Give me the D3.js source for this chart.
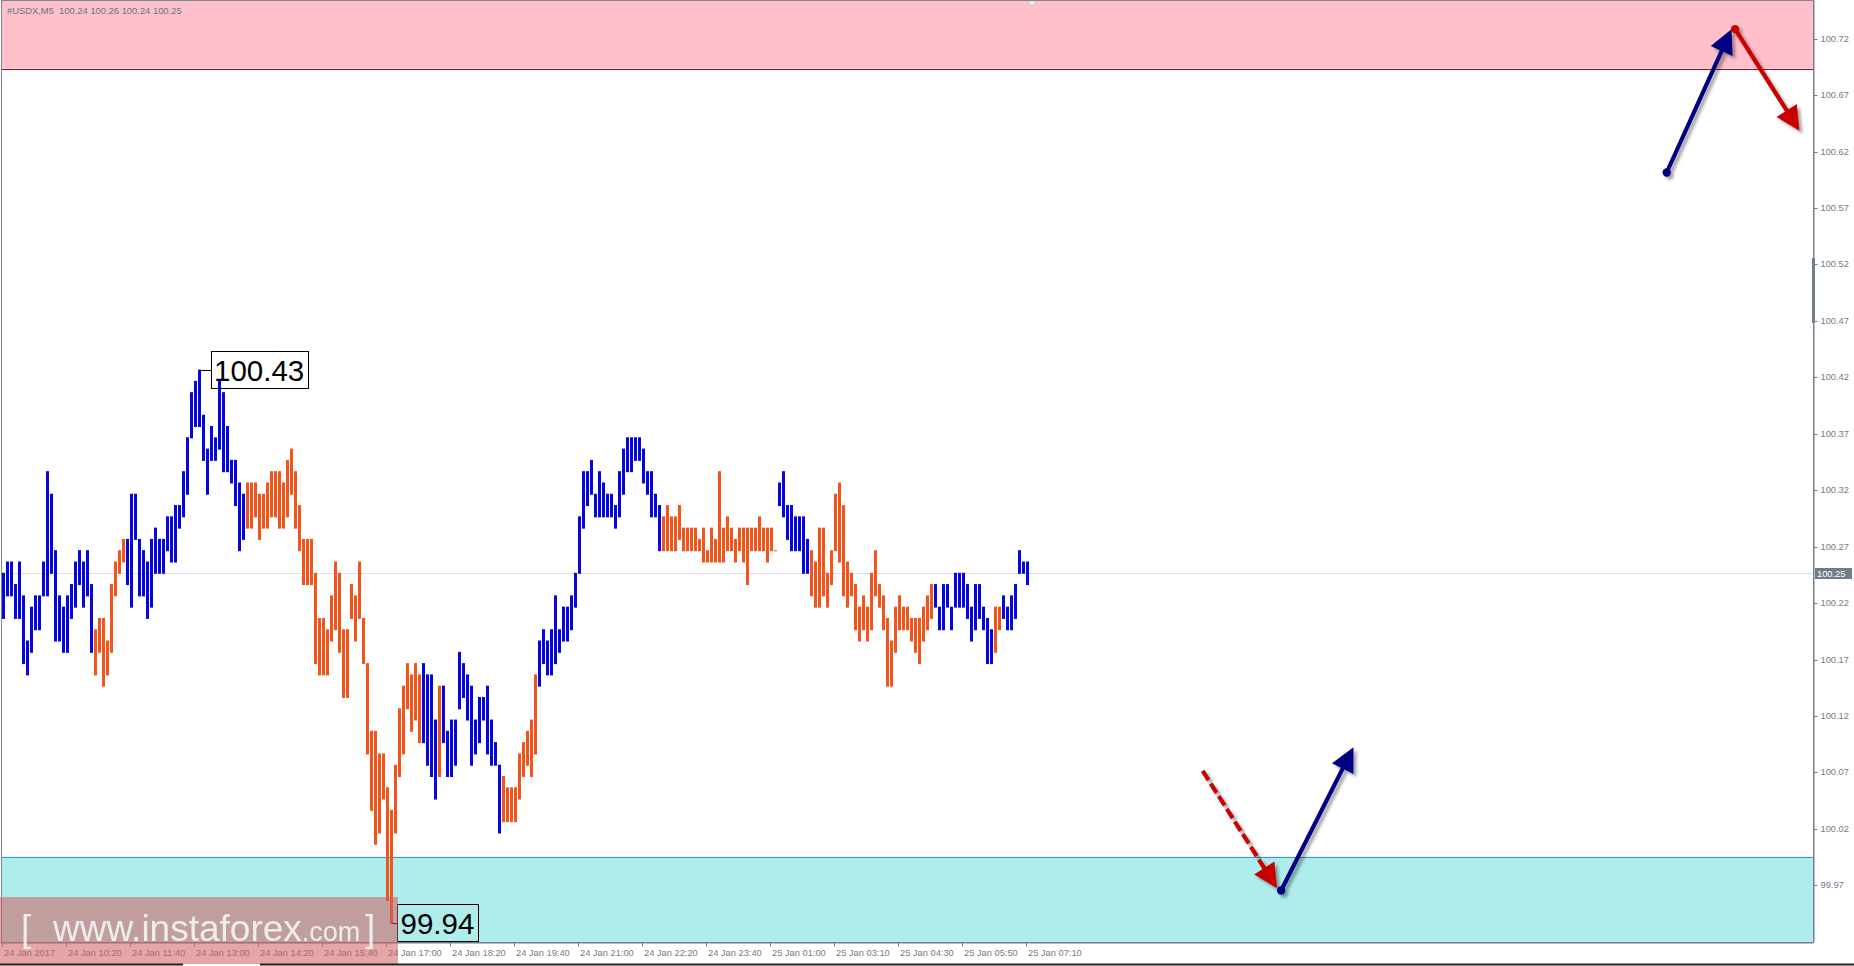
<!DOCTYPE html>
<html><head><meta charset="utf-8">
<script src="https://cdn.jsdelivr.net/npm/d3@7"></script>
<style>
html,body{margin:0;padding:0;background:#fff;overflow:hidden}
svg{display:block}
text{font-family:"Liberation Sans",Arial,sans-serif}
</style></head><body>
<svg id="c" width="1854" height="966"></svg>
<script>
const symbol = "#USDX,M5";
const lastOHLC = ["100.24", "100.26", "100.24", "100.25"];
const highs = [
100.25,100.26,100.26,100.24,100.26,100.23,100.19,100.22,100.23,100.23,
100.26,100.34,100.32,100.27,100.23,100.22,100.23,100.24,100.26,100.27,
100.26,100.27,100.24,100.20,100.21,100.21,100.19,100.24,100.26,100.27,
100.28,100.28,100.32,100.32,100.28,100.27,100.26,100.28,100.29,100.28,
100.28,100.30,100.30,100.31,100.31,100.34,100.37,100.41,100.42,100.43,
100.39,100.36,100.38,100.37,100.42,100.41,100.38,100.35,100.35,100.33,
100.32,100.33,100.33,100.33,100.32,100.32,100.33,100.34,100.34,100.34,
100.33,100.35,100.36,100.34,100.31,100.28,100.28,100.28,100.25,100.21,
100.21,100.20,100.23,100.26,100.25,100.20,100.20,100.24,100.23,100.26,
100.21,100.17,100.11,100.11,100.09,100.09,100.06,100.04,100.08,100.13,
100.15,100.17,100.16,100.17,100.16,100.17,100.16,100.16,100.12,100.15,
100.15,100.11,100.12,100.12,100.18,100.17,100.16,100.15,100.12,100.14,
100.14,100.15,100.12,100.10,100.08,100.07,100.06,100.06,100.06,100.09,
100.10,100.11,100.12,100.16,100.19,100.20,100.19,100.20,100.23,100.20,
100.22,100.22,100.23,100.25,100.30,100.34,100.34,100.35,100.32,100.34,
100.33,100.32,100.32,100.31,100.34,100.36,100.37,100.37,100.37,100.37,
100.36,100.34,100.34,100.32,100.31,100.30,100.31,100.30,100.30,100.31,
100.29,100.29,100.29,100.29,100.28,100.29,100.27,100.29,100.28,100.34,
100.29,100.30,100.29,100.28,100.29,100.29,100.29,100.29,100.29,100.30,
100.29,100.29,100.29,100.27,100.33,100.34,100.31,100.31,100.30,100.30,
100.30,100.28,100.27,100.26,100.29,100.29,100.25,100.27,100.32,100.33,
100.31,100.26,100.25,100.24,100.22,100.23,100.22,100.25,100.27,100.24,
100.23,100.21,100.19,100.22,100.23,100.22,100.22,100.21,100.21,100.21,
100.22,100.23,100.24,100.24,100.22,100.24,100.24,100.22,100.25,100.25,
100.25,100.24,100.22,100.24,100.24,100.22,100.21,100.20,100.22,100.22,
100.23,100.22,100.23,100.24,100.27,100.26,100.26];
const lows = [
100.21,100.23,100.23,100.21,100.21,100.17,100.16,100.18,100.20,100.20,
100.23,100.23,100.25,100.19,100.19,100.18,100.18,100.21,100.22,100.24,
100.22,100.23,100.18,100.16,100.18,100.15,100.16,100.18,100.23,100.25,
100.26,100.24,100.22,100.28,100.23,100.23,100.21,100.22,100.25,100.25,
100.25,100.27,100.26,100.26,100.29,100.30,100.32,100.37,100.38,100.38,
100.35,100.32,100.35,100.35,100.36,100.34,100.34,100.33,100.31,100.27,
100.28,100.29,100.29,100.30,100.28,100.29,100.29,100.30,100.30,100.29,
100.29,100.30,100.32,100.29,100.27,100.24,100.24,100.24,100.17,100.16,
100.16,100.16,100.19,100.20,100.18,100.14,100.14,100.21,100.19,100.21,
100.17,100.09,100.04,100.01,100.02,100.05,99.96,99.94,100.02,100.07,
100.09,100.13,100.11,100.12,100.10,100.10,100.08,100.07,100.05,100.07,
100.10,100.07,100.07,100.08,100.13,100.14,100.12,100.08,100.09,100.10,
100.12,100.09,100.08,100.08,100.02,100.03,100.03,100.03,100.03,100.05,
100.07,100.08,100.07,100.09,100.15,100.17,100.16,100.16,100.17,100.18,
100.19,100.19,100.20,100.22,100.25,100.29,100.31,100.32,100.30,100.30,
100.30,100.30,100.30,100.29,100.30,100.32,100.34,100.34,100.35,100.35,
100.33,100.32,100.30,100.30,100.27,100.27,100.27,100.27,100.27,100.28,
100.27,100.27,100.27,100.27,100.27,100.26,100.26,100.26,100.26,100.26,
100.26,100.27,100.27,100.26,100.27,100.26,100.24,100.27,100.27,100.27,
100.27,100.26,100.27,100.27,100.31,100.30,100.28,100.27,100.27,100.27,
100.25,100.25,100.23,100.22,100.22,100.23,100.22,100.24,100.27,100.26,
100.23,100.22,100.23,100.20,100.19,100.20,100.19,100.20,100.23,100.22,
100.20,100.15,100.15,100.18,100.20,100.20,100.20,100.19,100.18,100.17,
100.19,100.20,100.21,100.22,100.20,100.20,100.22,100.20,100.22,100.22,
100.22,100.21,100.19,100.20,100.21,100.20,100.17,100.17,100.18,100.20,
100.21,100.20,100.20,100.21,100.25,100.25,100.24];
// wave colouring of the bars, run-length: [colour, number of bars]
const trendRuns = [["B",23],["O",8],["B",30],["O",44],["B",4],["O",1],["B",15],["O",9],
  ["B",31],["O",29],["B",8],["O",31],["B",15],["O",2],["B",7]];
const timeLabels = ["24 Jan 2017","24 Jan 10:20","24 Jan 11:40","24 Jan 13:00","24 Jan 14:20",
  "24 Jan 15:40","24 Jan 17:00","24 Jan 18:20","24 Jan 19:40","24 Jan 21:00","24 Jan 22:20",
  "24 Jan 23:40","25 Jan 01:00","25 Jan 03:10","25 Jan 04:30","25 Jan 05:50","25 Jan 07:10"];
const timeLabelEvery = 16;
const priceTicks = [99.97,100.02,100.07,100.12,100.17,100.22,100.27,100.32,100.37,100.42,100.47,100.52,100.57,100.62,100.67,100.72];
const currentPrice = 100.25;
const resistanceZone = [100.697, 100.80];
const supportZone = [99.80, 99.999];
const extremes = [{i:49, v:100.43, label:"100.43"}, {i:97, v:99.94, label:"99.94"}];
// forecast arrows: [bar index, price]
const arrowFrom = [[415.8,100.605],[432.9,100.732],[299.8,100.075],[319.4,99.969]];
const arrowTo   = [[432.0,100.732],[449.0,100.642],[318.4,99.971],[337.5,100.096]];
const arrowColor = ["#000080","#c80000","#c80000","#000080"];
const arrowDashed = [false,false,true,false];
const arrowDot = [true,true,false,true];

const colors = {B:"#0606dc", O:"#f0561c"};
const trend = [];
trendRuns.forEach(([c,n])=>{for(let k=0;k<n;k++) trend.push(c);});
const bars = highs.map((h,i)=>({i, h, l:lows[i], c:trend[i]}));

const svg = d3.select("#c");
const x = d3.scaleLinear().domain([-0.875, 452.375]).range([0, 1813]);
const y = d3.scaleLinear().domain([99.9234, 100.7578]).range([942, 0]);

const defs = svg.append("defs");
defs.append("clipPath").attr("id","plot").append("rect").attr("x",1).attr("y",1).attr("width",1812).attr("height",941);
const f = defs.append("filter").attr("id","sh").attr("x","-20%").attr("y","-20%").attr("width","150%").attr("height","150%");
f.append("feDropShadow").attr("dx",3).attr("dy",3).attr("stdDeviation",1.8).attr("flood-color","#000").attr("flood-opacity",0.35);

svg.append("rect").attr("width",1854).attr("height",966).attr("fill","#fff");
const plot = svg.append("g").attr("clip-path","url(#plot)");

// zones
plot.append("rect").attr("x",1).attr("width",1812)
  .attr("y", y(resistanceZone[1])).attr("height", y(resistanceZone[0]) - y(resistanceZone[1]))
  .attr("fill","#ffc0cb");
plot.append("line").attr("x1",1).attr("x2",1813).attr("y1",Math.round(y(resistanceZone[0]))+0.5).attr("y2",Math.round(y(resistanceZone[0]))+0.5)
  .attr("stroke","#b00000").attr("stroke-width",1);
plot.append("rect").attr("x",1).attr("width",1812)
  .attr("y", y(supportZone[1])).attr("height", y(supportZone[0]) - y(supportZone[1]))
  .attr("fill","#afeded");
plot.append("line").attr("x1",1).attr("x2",1813).attr("y1",Math.round(y(supportZone[1]))+0.5).attr("y2",Math.round(y(supportZone[1]))+0.5)
  .attr("stroke","#3d8fd8").attr("stroke-width",1);

// current price line
plot.append("line").attr("x1",1).attr("x2",1813)
  .attr("y1",Math.round(y(currentPrice))+0.5).attr("y2",Math.round(y(currentPrice))+0.5)
  .attr("stroke","#dcdcea").attr("stroke-width",1);

// bars
plot.append("g").selectAll("rect").data(bars).join("rect")
  .attr("x", d=>x(d.i)-1.5).attr("width",3)
  .attr("y", d=>y(d.h)-0.5).attr("height", d=>Math.max(1, y(d.l)-y(d.h)+1))
  .attr("fill", d=>colors[d.c]);

// extreme labels
extremes.forEach(e=>{
  const bx = x(e.i)+0, by = y(e.v);
  const g = svg.append("g");
  const t = g.append("text").attr("font-size",29.5).attr("fill","#000").text(e.label);
  const tw = t.node().getComputedTextLength();
  const left = bx + (e.i===49 ? 11 : 5.5);
  t.attr("x", left+3.5).attr("y", by + 11);
  g.insert("rect","text").attr("x", Math.round(left)+0.5).attr("y", Math.round(by-19)+0.5)
    .attr("width", Math.round(tw+7)).attr("height",37).attr("fill","none").attr("stroke","#000").attr("stroke-width",1);
  g.append("line").attr("x1",bx).attr("x2",Math.round(left)+0.5).attr("y1",Math.round(by)+0.5).attr("y2",Math.round(by)+0.5)
    .attr("stroke","#000").attr("stroke-width",1);
});

// arrows
const ag = svg.append("g");
arrowFrom.forEach((fr,k)=>{
  const x0=x(fr[0]), y0=y(fr[1]), x1=x(arrowTo[k][0]), y1=y(arrowTo[k][1]);
  const dx=x1-x0, dy=y1-y0, L=Math.hypot(dx,dy), ux=dx/L, uy=dy/L;
  const hl=24, hw=12;
  const bx=x1-ux*hl, by=y1-uy*hl;
  const g = ag.append("g").attr("filter","url(#sh)");
  g.append("line").attr("x1",x0).attr("y1",y0).attr("x2",bx+ux*3).attr("y2",by+uy*3)
    .attr("stroke",arrowColor[k]).attr("stroke-width",4.2)
    .attr("stroke-dasharray", arrowDashed[k] ? "11,4" : null);
  g.append("path").attr("d",`M${x1},${y1}L${bx-uy*hw},${by+ux*hw}L${bx+uy*hw},${by-ux*hw}Z`).attr("fill",arrowColor[k]);
  if(arrowDot[k]) g.append("circle").attr("cx",x0).attr("cy",y0).attr("r",4.2).attr("fill",arrowColor[k]);
});

// header
svg.append("text").attr("x",7).attr("y",13.5).attr("font-size",9.4).attr("fill","#6b7480")
  .attr("xml:space","preserve").text(symbol + "  " + lastOHLC.join(" "));

// chart shift marker
svg.append("path").attr("d","M1028,1L1036,1L1032,6Z").attr("fill","#f0f0f0").attr("stroke","#c8c8c8").attr("stroke-width",0.7);

// frame
svg.append("rect").attr("x",1.5).attr("y",0.5).attr("width",1812).attr("height",942)
  .attr("fill","none").attr("stroke","#7b8794").attr("stroke-width",1);

// y axis
const axisCol = "#6f7d8c";
const ya = svg.append("g").attr("transform","translate(1813.5,0)")
  .call(d3.axisRight(y).tickValues(priceTicks).tickSize(4).tickSizeOuter(0).tickPadding(3).tickFormat(d3.format(".2f")));
ya.select(".domain").attr("stroke",axisCol);
ya.selectAll(".tick").attr("transform", d=>`translate(0,${Math.round(y(d)-4)+0.5})`);
ya.selectAll(".tick line").attr("stroke",axisCol);
ya.selectAll(".tick text").attr("fill",axisCol).attr("font-size",9.3).attr("font-family","Liberation Sans, Arial, sans-serif");
svg.append("rect").attr("x",1812).attr("y",258).attr("width",3).attr("height",65).attr("fill",axisCol);

// x axis
const tickIdx = timeLabels.map((_,k)=>k*timeLabelEvery);
const xa = svg.append("g").attr("transform","translate(0,942.5)")
  .call(d3.axisBottom(x).tickValues(tickIdx).tickSize(4).tickSizeOuter(0).tickFormat((d,k)=>timeLabels[k]));
xa.select(".domain").attr("stroke",axisCol);
xa.selectAll(".tick").attr("transform", d=>`translate(${Math.round(x(d)-1.5)+0.5},0)`);
xa.selectAll(".tick line").attr("stroke",axisCol);
xa.selectAll(".tick text").attr("fill",axisCol).attr("font-size",9.3).attr("font-family","Liberation Sans, Arial, sans-serif")
  .attr("text-anchor","start").attr("x",1.5).attr("y",7).attr("dy","0.71em");

// watermark
const wm = svg.append("g");
wm.append("rect").attr("x",0).attr("y",897).attr("width",398).attr("height",67).attr("fill","#cd5c5c").attr("opacity",0.55);
const wt = wm.append("text").attr("y",941).attr("fill","#f6fbfb").attr("opacity",0.85);
wt.append("tspan").attr("x",21).attr("font-size",37).text("[");
wt.append("tspan").attr("x",53).attr("font-size",37).text("www.instaforex");
wt.append("tspan").attr("font-size",27).text(".com");
wt.append("tspan").attr("x",365).attr("font-size",37).text("]");

// current price label
const cy = Math.round(y(currentPrice));
svg.append("rect").attr("x",1815).attr("y",cy-5).attr("width",37).attr("height",11).attr("fill","#6f7d8c");
svg.append("text").attr("x",1817).attr("y",cy+4).attr("font-size",9.3).attr("fill","#fff").text(currentPrice.toFixed(2));

// bottom window edge
svg.append("line").attr("x1",0).attr("x2",183).attr("y1",964.5).attr("y2",964.5).attr("stroke","#222").attr("stroke-width",2);
svg.append("line").attr("x1",260).attr("x2",1854).attr("y1",964.5).attr("y2",964.5).attr("stroke","#222").attr("stroke-width",2);
</script>
</body></html>
